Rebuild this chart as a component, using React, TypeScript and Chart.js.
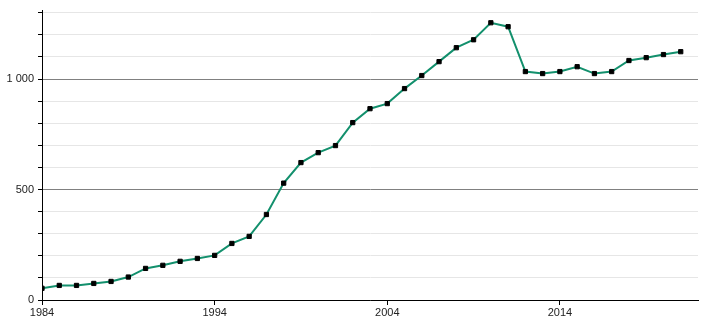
import React, { useEffect, useRef } from "react";
import { Chart, registerables } from "chart.js";

Chart.register(...registerables);

const years = [
  1984, 1985, 1986, 1987, 1988, 1989, 1990, 1991, 1992, 1993, 1994, 1995, 1996,
  1997, 1998, 1999, 2000, 2001, 2002, 2003, 2004, 2005, 2006, 2007, 2008, 2009,
  2010, 2011, 2012, 2013, 2014, 2015, 2016, 2017, 2018, 2019, 2020, 2021,
];
const values = [
  53, 66, 66, 75, 84, 104, 143, 157, 175, 188, 202, 256, 288, 387, 529, 622, 667,
  699, 803, 866, 889, 957, 1016, 1079, 1142, 1178, 1255, 1237, 1034, 1025, 1034,
  1056, 1025, 1034, 1084, 1097, 1111, 1124,
];
const xTicks = [1984, 1994, 2004, 2014];
const yTicks = [0, 100, 200, 300, 400, 500, 600, 700, 800, 900, 1000, 1100, 1200, 1300];
const yLabelled = [0, 500, 1000];

const fmt = (v: number) =>
  String(v).replace(/\B(?=(\d{3})+(?!\d))/g, " ");

export default function App() {
  const ref = useRef<HTMLCanvasElement | null>(null);
  useEffect(() => {
    if (!ref.current) return;
    const font = { family: "'Liberation Sans', Arial, sans-serif", size: 11 };
    const chart = new Chart(ref.current, {
      type: "line",
      data: {
        datasets: [
          {
            data: years.map((y, i) => ({ x: y, y: values[i] })),
            borderColor: "#13906d",
            borderWidth: 2,
            pointStyle: "rect",
            pointRadius: 3,
            pointBorderWidth: 1,
            pointBackgroundColor: "#000",
            pointBorderColor: "#000",
            tension: 0,
          },
        ],
      },
      options: {
        responsive: false,
        animation: false,
        events: [],
        layout: { padding: { top: 10, right: 12, left: 0, bottom: 0 } },
        plugins: { legend: { display: false }, tooltip: { enabled: false } },
        scales: {
          x: {
            type: "linear",
            min: 1984,
            max: 2022,
            afterBuildTicks: (s: any) => {
              s.ticks = xTicks.map((v) => ({ value: v }));
            },
            afterFit: (s: any) => {
              s.height = 20;
            },
            ticks: {
              autoSkip: false,
              maxRotation: 0,
              padding: 1,
              color: "#222",
              font,
              callback: (v: any) => String(v),
            },
            grid: {
              drawOnChartArea: false,
              drawTicks: true,
              tickLength: 5,
              tickColor: "#000",
            },
            border: { color: "#000", width: 1 },
          },
          y: {
            type: "linear",
            min: 0,
            max: 1310,
            afterBuildTicks: (s: any) => {
              s.ticks = yTicks.map((v) => ({ value: v }));
            },
            afterFit: (s: any) => {
              s.width = 42;
            },
            ticks: {
              autoSkip: false,
              padding: 4,
              color: "#222",
              font,
              callback: (v: any) => (yLabelled.includes(v) ? fmt(v) : ""),
            },
            grid: {
              color: (c: any) =>
                c.tick && c.tick.value % 500 === 0 ? "#808080" : "#e6e6e6",
              tickColor: "#000",
              tickLength: 4,
              lineWidth: 1,
            },
            border: { color: "#000", width: 1 },
          },
        },
      },
    });
    return () => chart.destroy();
  }, []);
  return (
    <div style={{ position: "absolute", left: 0, top: 0, width: 710, height: 320 }}>
      <canvas ref={ref} width={710} height={320} />
    </div>
  );
}
